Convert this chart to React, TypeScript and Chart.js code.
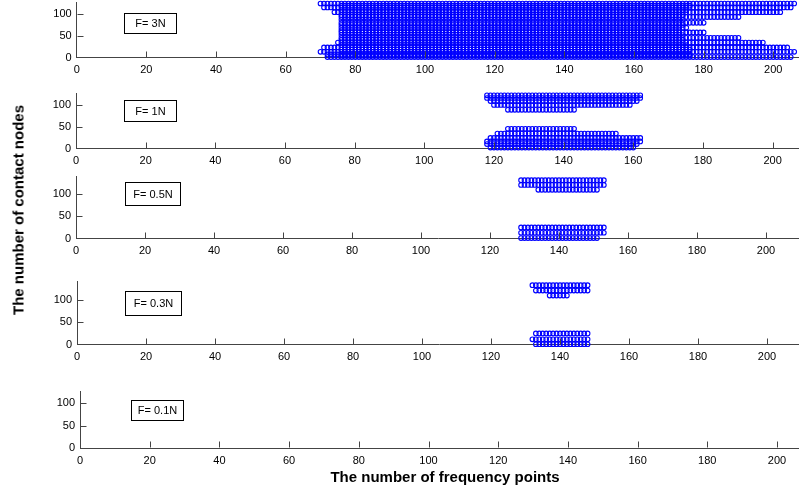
import React, { useEffect, useRef } from "react";
import { Chart, registerables } from "chart.js";

Chart.register(...registerables);

const FONT = '"Liberation Sans", Arial, Helvetica, sans-serif';

const xTickValues = [0, 20, 40, 60, 80, 100, 120, 140, 160, 180, 200];
const yTickValues = [0, 50, 100];
const forceLabels = ["F= 3N", "F= 1N", "F= 0.5N", "F= 0.3N", "F= 0.1N"];
const xTitle = "The number of frequency points";
const yTitle = "The number of contact nodes";

// Each run: [contact node, first frequency point in contact, last frequency point in contact]
const runs3N = [
  [123, 70, 206],
  [118, 76, 176],
  [114, 71, 205],
  [108, 76, 175],
  [103, 74, 202],
  [97, 76, 174],
  [92, 76, 190],
  [86, 76, 174],
  [79, 76, 180],
  [74, 76, 174],
  [68, 76, 175],
  [62, 76, 173],
  [57, 76, 180],
  [51, 76, 174],
  [45, 76, 190],
  [40, 76, 174],
  [34, 75, 197],
  [28, 76, 175],
  [23, 71, 204],
  [18, 76, 176],
  [13, 70, 206],
  [7, 72, 176],
  [4, 76, 176],
  [1, 72, 205],
];
const runs1N = [
  [121, 118, 162],
  [115, 118, 162],
  [108, 119, 161],
  [99, 120, 159],
  [88, 124, 143],
  [45, 124, 143],
  [34, 121, 155],
  [24, 119, 162],
  [16, 118, 162],
  [10, 118, 161],
  [2, 119, 160],
];
const runs05N = [
  [132, 129, 153],
  [121, 129, 153],
  [110, 134, 151],
  [25, 129, 153],
  [13, 129, 153],
  [1, 129, 151],
];
const runs03N = [
  [132, 132, 148],
  [120, 133, 148],
  [109, 137, 142],
  [25, 133, 148],
  [12, 132, 148],
  [1, 133, 148],
];
const runs01N: number[][] = [];

const panelRuns = [runs3N, runs1N, runs05N, runs03N, runs01N];

// Layout of each panel (pixels), and the label box anchor in data units
const panelLayout = [
  { left: 76.7, axisY: 57.5, unitX: 3.483, unitY: 0.446, yMax: 125, boxX: 13.7, boxY: 101, boxW: 52, boxH: 20 },
  { left: 76, axisY: 148.5, unitX: 3.483, unitY: 0.45, yMax: 125, boxX: 13.8, boxY: 111, boxW: 52, boxH: 21 },
  { left: 76, axisY: 238.5, unitX: 3.45, unitY: 0.45, yMax: 140, boxX: 14.2, boxY: 127, boxW: 55, boxH: 23 },
  { left: 77, axisY: 344.7, unitX: 3.45, unitY: 0.46, yMax: 140, boxX: 13.9, boxY: 119, boxW: 56, boxH: 24 },
  { left: 80, axisY: 448.3, unitX: 3.485, unitY: 0.46, yMax: 125, boxX: 14.6, boxY: 106.5, boxW: 52, boxH: 20 },
];
const X_MAX = 210;

const toPoints = (runs: number[][]) => {
  const pts: { x: number; y: number }[] = [];
  for (const [node, first, last] of runs) {
    for (let f = first; f <= last; f++) pts.push({ x: f, y: node });
  }
  return pts;
};

const panelDecor = {
  id: "panelDecor",
  afterDraw(chart: any, _args: any, opts: any) {
    const { ctx, chartArea, scales } = chart;
    const xs = scales.x;
    const ys = scales.y;
    ctx.save();
    ctx.strokeStyle = "#444";
    ctx.lineWidth = 1;
    ctx.beginPath();
    const by = Math.round(chartArea.bottom) - 0.5;
    for (const t of xs.ticks) {
      if (t.value === 0) continue;
      const px = Math.round(xs.getPixelForValue(t.value)) + 0.5;
      ctx.moveTo(px, by);
      ctx.lineTo(px, by - 6);
    }
    const lx = Math.round(chartArea.left) + 0.5;
    for (const t of ys.ticks) {
      if (t.value === 0) continue;
      const py = Math.round(ys.getPixelForValue(t.value)) + 0.5;
      ctx.moveTo(lx, py);
      ctx.lineTo(lx + 6, py);
    }
    ctx.stroke();

    const bx = Math.round(xs.getPixelForValue(opts.x)) + 0.5;
    const bt = Math.round(ys.getPixelForValue(opts.y)) + 0.5;
    ctx.fillStyle = "#fff";
    ctx.fillRect(bx, bt, opts.w, opts.h);
    ctx.strokeStyle = "#000";
    ctx.strokeRect(bx, bt, opts.w, opts.h);
    ctx.fillStyle = "#000";
    ctx.font = `11px ${FONT}`;
    ctx.textAlign = "center";
    ctx.textBaseline = "middle";
    ctx.fillText(opts.text, bx + opts.w / 2, bt + opts.h / 2 + 0.5);
    ctx.restore();
  },
};

function Panel({ idx }: { idx: number }) {
  const ref = useRef<HTMLCanvasElement>(null);
  const L = panelLayout[idx];
  const plotW = X_MAX * L.unitX;
  const plotH = L.yMax * L.unitY;
  const canvasTop = Math.floor(L.axisY - plotH - 10);
  const padTop = L.axisY - plotH - canvasTop;
  const canvasH = Math.ceil(L.axisY + 24) - canvasTop;
  const bottomH = canvasTop + canvasH - L.axisY;
  const canvasW = Math.ceil(L.left + plotW + 20);
  const padRight = canvasW - L.left - plotW;

  useEffect(() => {
    const chart = new Chart(ref.current as HTMLCanvasElement, {
      type: "scatter",
      data: {
        datasets: [
          {
            data: toPoints(panelRuns[idx]),
            pointStyle: "circle",
            pointRadius: 2.3,
            pointHoverRadius: 2.3,
            pointBorderWidth: 1.1,
            borderColor: "#0000ff",
            backgroundColor: "rgba(0,0,0,0)",
            showLine: false,
            clip: false as any,
          },
        ],
      },
      options: {
        responsive: false,
        animation: false,
        events: [],
        layout: { padding: { top: padTop, right: padRight, bottom: 0, left: 0 } },
        plugins: {
          legend: { display: false },
          tooltip: { enabled: false },
          panelDecor: { text: forceLabels[idx], x: L.boxX, y: L.boxY, w: L.boxW, h: L.boxH },
        } as any,
        scales: {
          x: {
            type: "linear",
            min: 0,
            max: X_MAX,
            afterBuildTicks: (s: any) => {
              s.ticks = xTickValues.map((v) => ({ value: v }));
            },
            afterFit: (s: any) => {
              s.height = bottomH;
            },
            grid: { display: false, drawTicks: false },
            border: { display: true, color: "#444", width: 1 },
            ticks: {
              autoSkip: false,
              maxRotation: 0,
              padding: 6,
              color: "#000",
              font: { family: FONT, size: 11 },
            },
          },
          y: {
            type: "linear",
            min: 0,
            max: L.yMax,
            afterBuildTicks: (s: any) => {
              s.ticks = yTickValues.map((v) => ({ value: v }));
            },
            afterFit: (s: any) => {
              s.width = L.left;
            },
            grid: { display: false, drawTicks: false },
            border: { display: true, color: "#444", width: 1 },
            ticks: {
              padding: 5,
              color: "#000",
              font: { family: FONT, size: 11 },
            },
          },
        },
      },
      plugins: [panelDecor as any],
    });
    return () => chart.destroy();
  }, []);

  return (
    <canvas
      ref={ref}
      width={canvasW}
      height={canvasH}
      style={{ position: "absolute", left: 0, top: canvasTop, width: canvasW, height: canvasH, display: "block" }}
    />
  );
}

export default function App() {
  return (
    <div
      style={{
        position: "fixed",
        left: 0,
        top: 0,
        width: 799,
        height: 490,
        overflow: "hidden",
        background: "#fff",
      }}
    >
      {panelLayout.map((_, i) => (
        <Panel key={i} idx={i} />
      ))}
      <div
        style={{
          position: "absolute",
          left: 445,
          top: 476,
          transform: "translate(-50%, -50%)",
          font: `bold 15px ${FONT}`,
          whiteSpace: "nowrap",
          color: "#000",
        }}
      >
        {xTitle}
      </div>
      <div
        style={{
          position: "absolute",
          left: 18,
          top: 210,
          transform: "translate(-50%, -50%) rotate(-90deg)",
          font: `bold 15px ${FONT}`,
          whiteSpace: "nowrap",
          color: "#000",
        }}
      >
        {yTitle}
      </div>
    </div>
  );
}
